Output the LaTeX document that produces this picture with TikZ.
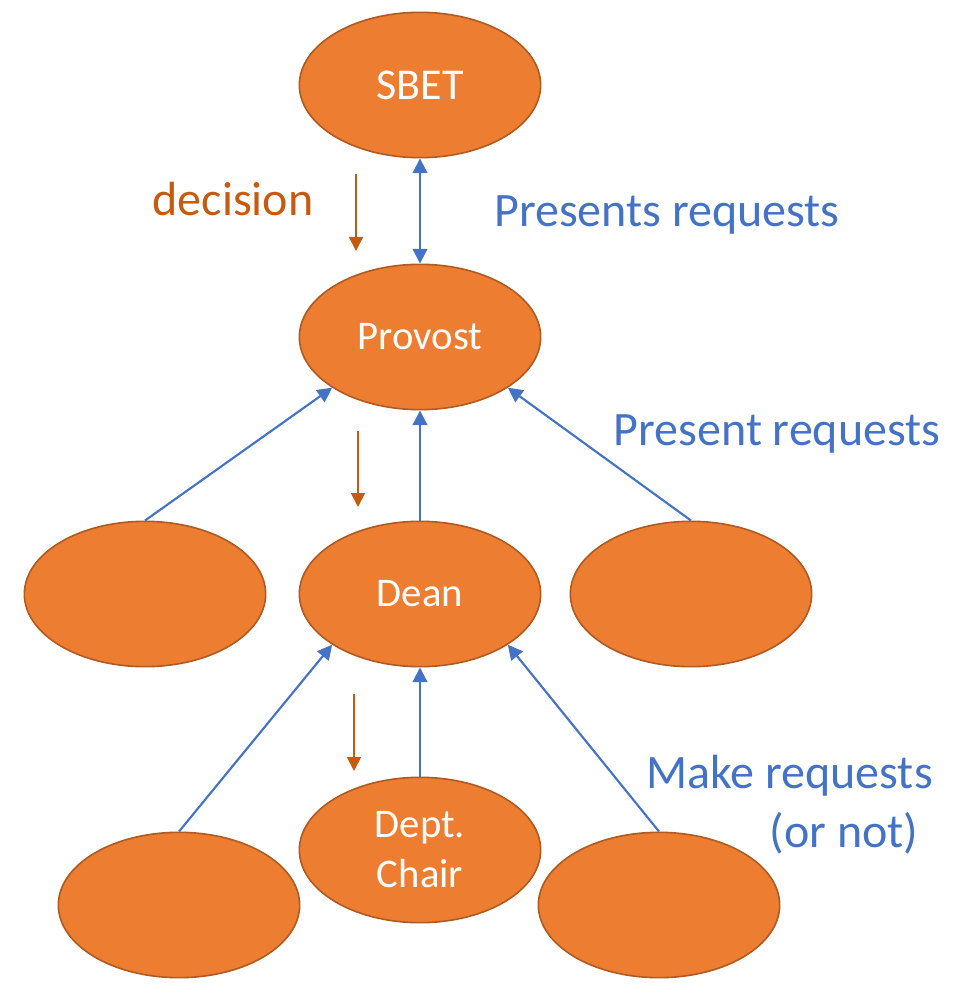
\documentclass[tikz,border=0pt]{standalone}
\usepackage{fontspec}
\setmainfont{Carlito}
\usetikzlibrary{shapes.geometric,arrows.meta}
\definecolor{boxfill}{HTML}{ED7D31}
\definecolor{boxline}{HTML}{AE5A21}
\definecolor{reqblue}{HTML}{4472C4}
\definecolor{decbrown}{HTML}{C55A11}
\begin{document}
\begin{tikzpicture}[x=0.75pt,y=-0.75pt,
 role/.style={ellipse,draw=boxline,fill=boxfill,line width=1.2pt,minimum width=181pt,minimum height=109pt,inner sep=0pt,text=white,align=center,font=\fontsize{30.5}{37.5}\selectfont},
 req/.style={draw=reqblue,line width=1.6pt,-{Triangle[width=11pt,length=11pt]}},
 dec/.style={draw=decbrown,line width=1.3pt,-{Triangle[width=10.5pt,length=10.5pt]}},
 bluetext/.style={text=reqblue,font=\fontsize{36}{44.5}\selectfont,inner sep=0pt},
 browntext/.style={text=decbrown,font=\fontsize{36}{44.5}\selectfont,inner sep=0pt}]
\useasboundingbox (0,0) rectangle (955,987);
\node[role,font=\fontsize{33}{40}\selectfont] (sbet) at (420,85) {SBET};
\node[role] (provost) at (420,337) {Provost};
\node[role] (dean) at (420,594) {Dean};
\node[role] (left) at (145,594) {};
\node[role] (right) at (691,594) {};
\node[role] (chair) at (420,850) {Dept.\\Chair};
\node[role] (bleft) at (179,905) {};
\node[role] (bright) at (659,905) {};
\draw[req,{Triangle[width=11pt,length=11pt]}-{Triangle[width=11pt,length=11pt]}] (sbet) -- (provost);
\draw[req] (left.north) -- (provost.210);
\draw[req] (dean.north) -- (provost.south);
\draw[req] (right.north) -- (provost.330);
\draw[req] (bleft.north) -- (dean.210);
\draw[req] (chair.north) -- (dean.south);
\draw[req] (bright.north) -- (dean.330);
\coordinate (d1a) at (356,174);
\coordinate (d1b) at (356,251);
\coordinate (d2a) at (358,431);
\coordinate (d2b) at (358,507);
\coordinate (d3a) at (354,694);
\coordinate (d3b) at (354,771);
\draw[dec] (d1a) -- (d1b);
\draw[dec] (d2a) -- (d2b);
\draw[dec] (d3a) -- (d3b);
\node[browntext] (decision) at (233,199) {decision};
\node[bluetext] (presents) at (667,215) {Presents requests};
\node[bluetext] (present) at (777,434) {Present requests};
\node[bluetext,align=right,anchor=north east] (make) at (933,755) {Make requests\\(or not)\hspace*{0.3em}};
\end{tikzpicture}
\end{document}
